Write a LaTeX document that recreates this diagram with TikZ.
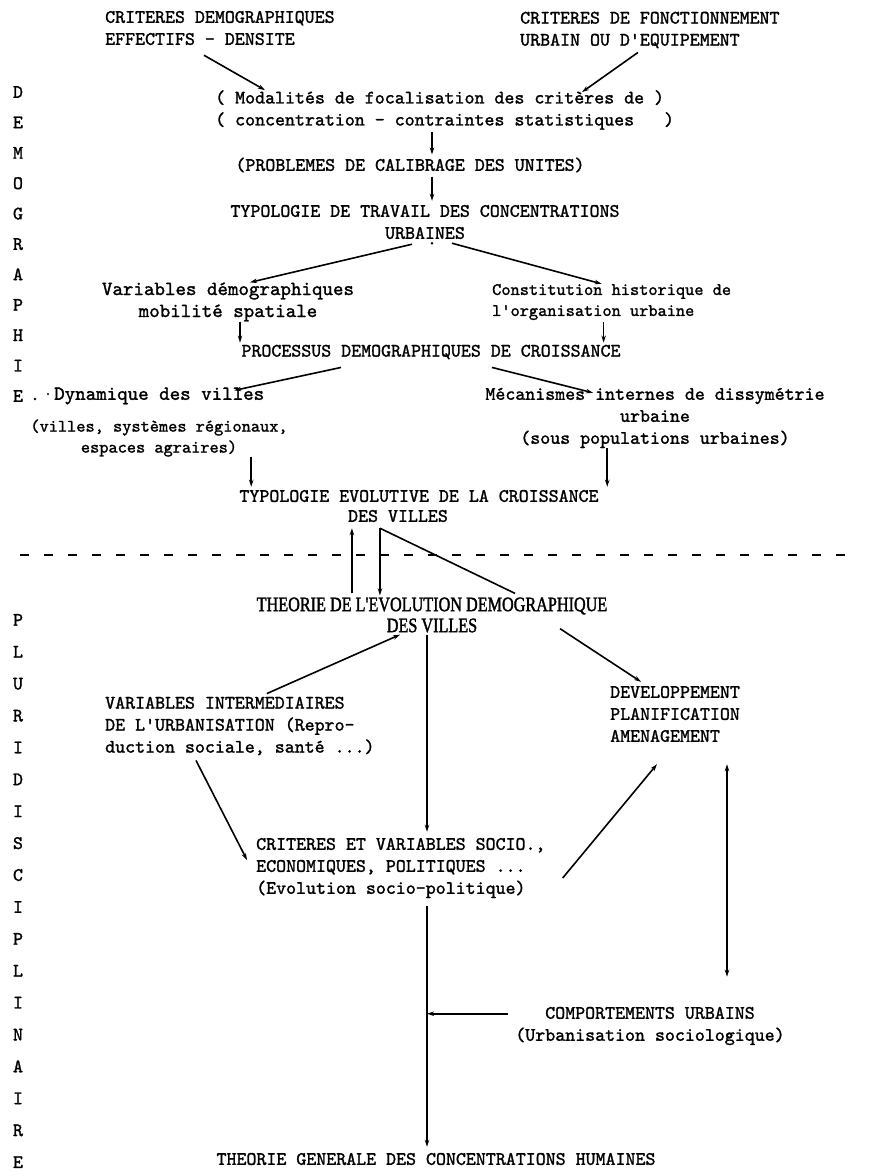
\documentclass[tikz,border=0pt]{standalone}
\usepackage{fontspec}
\usetikzlibrary{arrows.meta,calc}
\newfontfamily\headfont{Liberation Serif}[FakeBold=1.6,FakeStretch=0.79]
\newfontfamily\tw{lmmono10-regular.otf}[FakeBold=1.4]
\begin{document}
\begin{tikzpicture}[x=1pt,y=-1pt,
  tt/.style={font=\fontsize{19}{22}\selectfont\tw, inner sep=0pt, text=black},
  ttw/.style={font=\fontsize{20}{22}\selectfont\tw, inner sep=0pt, text=black},
  ttn/.style={font=\fontsize{17.5}{21}\selectfont\tw, inner sep=0pt, text=black},
  head/.style={font=\fontsize{20.5}{21}\selectfont\headfont, inner sep=0pt, align=center},
  colA/.style={font=\fontsize{19}{30.4}\selectfont\tw, inner sep=0pt, align=center},
  colB/.style={font=\fontsize{19}{31.9}\selectfont\tw, inner sep=0pt, align=center},
  arr/.style={line width=1.6pt, -{Stealth[length=7pt,width=4.5pt]}},
  arrb/.style={line width=1.6pt, {Stealth[length=7pt,width=4.5pt]}-{Stealth[length=7pt,width=4.5pt]}},
  ln/.style={line width=1.6pt},
  sep/.style={line width=1.7pt, dash pattern=on 9pt off 15pt},
]
\useasboundingbox (0,0) rectangle (875,1176);
\fill[white] (0,0) rectangle (875,1176);

% letter columns
\node[colA] (demo) at (18,244) {D\\E\\M\\O\\G\\R\\A\\P\\H\\I\\E};
\node[colB] (pluri) at (18,891) {P\\L\\U\\R\\I\\D\\I\\S\\C\\I\\P\\L\\I\\N\\A\\I\\R\\E};
\fill (35,399) circle (1.3pt);
\fill (48,394) circle (1.1pt);

% upper part
\node[tt, align=left, anchor=west] (cdem) at (105,28) {CRITERES DEMOGRAPHIQUES\\EFFECTIFS - DENSITE};
\node[tt, align=left, anchor=west] (cfon) at (520,30) {CRITERES DE FONCTIONNEMENT\\URBAIN OU D'EQUIPEMENT};
\node[tt, align=left, anchor=west] (modal) at (215,110) {( Modalités de focalisation des critères de )\\( concentration - contraintes statistiques~~~)};
\node[tt] (probl) at (410,165) {(PROBLEMES DE CALIBRAGE DES UNITES)};
\node[tt, align=center] (typo1) at (425,222) {TYPOLOGIE DE TRAVAIL DES CONCENTRATIONS\\URBAINES};
\node[ttw, align=center] (varde) at (228,302) {Variables démographiques\\mobilité spatiale};
\node[ttn, align=left, anchor=west] (const) at (492,302) {Constitution historique de\\l'organisation urbaine};
\node[tt] (proc) at (431,352) {PROCESSUS DEMOGRAPHIQUES DE CROISSANCE};
\node[ttw, anchor=west] (dyn) at (54,396) {Dynamique des villes};
\node[ttn, align=center] (dynsub) at (159,438) {(villes, systèmes régionaux,\\espaces agraires)};
\node[tt, align=center] (meca) at (655,418) {Mécanismes internes de dissymétrie\\urbaine\\(sous populations urbaines)};
\node[tt] (typo2a) at (419,496) {TYPOLOGIE EVOLUTIVE DE LA CROISSANCE};
\node[tt] (typo2b) at (398,516) {DES VILLES};

% separation
\coordinate (sepL) at (20,555);
\coordinate (sepR) at (848,555);
\draw[sep] (sepL) -- (sepR);

% lower part
\node[head] (theo) at (432,615) {THEORIE DE L'EVOLUTION DEMOGRAPHIQUE\\DES VILLES};
\node[tt, align=left, anchor=west] (var) at (105,726) {VARIABLES INTERMEDIAIRES\\DE L'URBANISATION (Repro-\\duction sociale, santé ...)};
\node[tt, align=left, anchor=west] (dev) at (610,714) {DEVELOPPEMENT\\PLANIFICATION\\AMENAGEMENT};
\node[tt, align=left, anchor=west] (crit) at (256,868) {CRITERES ET VARIABLES SOCIO.,\\ECONOMIQUES, POLITIQUES ...\\(Evolution socio-politique)};
\node[tt, align=center] (comp) at (650,1026) {COMPORTEMENTS URBAINS\\(Urbanisation sociologique)};
\node[tt] (tgen) at (436,1159) {THEORIE GENERALE DES CONCENTRATIONS HUMAINES};

% axes
\coordinate (ax) at (432,0);
\coordinate (ax2) at (427,0);

% upper connectors
\draw[arr] ($(cdem.south)+(-16,10)$) -- ($(modal.north west)+(50,0)$);
\draw[arr] ($(cfon.south west)+(118,4)$) -- ($(modal.north west)+(367,2)$);
\draw[arr] ($(modal.south -| ax)+(0,2)$) -- ($(probl.north -| ax)+(0,-3)$);
\draw[arr] ($(probl.south -| ax)+(0,4)$) -- ($(typo1.north -| ax)+(0,-4)$);
\fill ($(typo1.south -| ax)+(0,4)$) circle (1.4pt);
\draw[arr] ($(typo1.south)+(-13,5)$) -- ($(varde.north)+(22,0)$);
\draw[arr] ($(typo1.south)+(27,4)$) -- ($(const.north)+(-10,0)$);
\coordinate (vx) at ($(varde.south)+(12,0)$);
\draw[arr] (vx) -- ($(vx |- proc.north)+(0,-2)$);
\coordinate (cx) at ($(const.south)+(-8,2)$);
\draw[arr] (cx) -- ($(cx |- proc.north)+(0,-2)$);
\draw[arr] ($(proc.south)+(-90,8)$) -- ($(dyn.north)+(75,3)$);
\draw[arr] ($(proc.south)+(61,8)$) -- ($(meca.north)+(-62,5)$);
\coordinate (dx) at ($(typo2a.north west)+(12,-3)$);
\draw[arr] (dx |- dynsub.south) -- (dx);
\coordinate (mx) at ($(typo2a.north west)+(368,-3)$);
\draw[arr] (mx |- meca.south) -- (mx);

% crossing the separation
\coordinate (upx) at ($(typo2b.south west)+(4,6)$);
\draw[arr] ($(upx |- theo.north)+(0,-4)$) -- (upx);
\coordinate (dnx) at ($(typo2b.south west)+(32,6)$);
\draw[arr] (dnx) -- ($(dnx |- theo.north)+(0,-2)$);
\draw[ln] (dnx) -- ($(theo.north)+(83,-4)$);

% lower connectors
\draw[arr] ($(var.north)+(27,-3)$) -- ($(theo.south)+(-32,2)$);
\draw[arr] ($(theo.south -| ax2)+(0,2)$) -- ($(crit.north -| ax2)+(0,-6)$);
\draw[arr] ($(theo.south)+(128,-4)$) -- ($(dev.north west)+(31,-4)$);
\draw[arr] ($(var.south west)+(91,5)$) -- ($(crit.west)+(-9,-8)$);
\draw[arr] ($(crit.east)+(17,10)$) -- ($(dev.south west)+(47,22)$);
\coordinate (dvx) at ($(dev.south west)+(117,22)$);
\draw[arrb] (dvx) -- ($(dvx |- comp.north)+(0,-30)$);
\draw[arr] ($(ax2 |- crit.south)+(0,8)$) -- ($(ax2 |- tgen.north)+(0,-6)$);
\coordinate (cpx) at ($(comp.north west)+(-7,7)$);
\draw[arr] (cpx) -- (ax2 |- cpx);
\end{tikzpicture}
\end{document}
